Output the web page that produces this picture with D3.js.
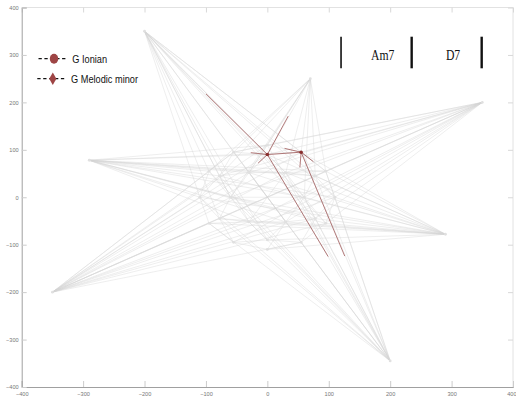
<!DOCTYPE html>
<html>
<head>
<meta charset="utf-8">
<script src="https://cdn.jsdelivr.net/npm/d3@7/dist/d3.min.js"></script>
<style>
  html, body { margin: 0; padding: 0; background: #fff; }
  svg { display: block; }
</style>
</head>
<body>
<svg id="chart" width="516" height="401"></svg>
<script>
// Axis ticks
const xTicks = [-400, -300, -200, -100, 0, 100, 200, 300, 400];
const yTicks = [-400, -300, -200, -100, 0, 100, 200, 300, 400];

// Inner scale lattice: outer ring, middle ring, inner ring
const innerNodes = [
  [110, 0], [95, 55], [55, 95], [0, 110], [-55, 95], [-95, 55],
  [-110, 0], [-95, -55], [-55, -95], [0, -110], [55, -95], [95, -55],
  [78, 45], [0, 90], [-78, 45], [-78, -45], [0, -90], [78, -45],
  [60, 0], [30, 52], [-30, 52], [-60, 0], [-30, -52], [30, -52]
];

// Star tips (distant scales)
const outerNodes = [
  [-200, 350], [70, 250], [350, 200], [-290, 78],
  [290, -78], [-350, -200], [200, -345]
];

// Links inside the lattice (indices into innerNodes)
const innerEdges = [
  [0,1],[1,2],[2,3],[3,4],[4,5],[5,6],[6,7],[7,8],[8,9],[9,10],[10,11],[11,0],
  [12,0],[12,2],[13,2],[13,4],[14,4],[14,6],[15,6],[15,8],[16,8],[16,10],[17,10],[17,0],
  [18,19],[19,20],[20,21],[21,22],[22,23],[23,18],
  [18,12],[18,17],[19,12],[19,13],[20,13],[20,14],[21,14],[21,15],[22,15],[22,16],[23,16],[23,17],
  [18,21],[19,22],[20,23],[1,19],[3,20],[5,21],[7,22],[9,23],[11,18]
];

// Links from each star tip to lattice nodes
const outerFans = [
  [6, 5, 14, 21, 15, 22, 20, 13, 16, 23, 19, 18, 12, 17, 1, 0, 11, 2],
  [4, 5, 14, 20, 13, 3, 19, 2, 12, 1, 18, 21],
  [3, 4, 13, 2, 20, 19, 12, 1, 14, 21, 18, 0, 22, 23, 17, 11, 15, 8],
  [13, 3, 2, 20, 19, 12, 1, 18, 0, 14, 21, 5, 6, 23, 17, 11, 22],
  [2, 13, 19, 12, 1, 18, 0, 20, 21, 14, 22, 23, 15, 6, 7, 16, 9, 11, 17],
  [4, 5, 14, 20, 13, 3, 2, 19, 21, 6, 18, 12, 1, 0, 22, 23, 17, 11, 10, 15, 7],
  [6, 5, 14, 21, 20, 13, 4, 3, 19, 2, 18, 12, 1, 0, 22, 15, 7, 23, 17]
];

// Highlighted path: the two active scales and their links
const activeNodes = [[0, 90], [55, 95]];
const activeLinks = [
  [0, 90, -100, 218], [0, 90, 99, -125], [0, 90, 34, 171], [0, 90, -15, 72],
  [0, 90, -27, 94], [0, 90, 55, 95],
  [55, 95, 28, 103], [55, 95, 75, 75], [55, 95, 53, 63], [55, 95, 126, -124]
];

// Legend
const legendLabels = ["G Ionian", "G Melodic minor"];
const legendSymbols = ["circle", "diamond"];

// Chord bar
const chordNames = ["Am7", "D7"];
const chordBars = [120, 235, 349];

const svg = d3.select("#chart");
const x = d3.scaleLinear().domain([-400, 400]).range([21.7, 513]);
const y = d3.scaleLinear().domain([-400, 400]).range([387, 7.5]);

const tickFont = "'Liberation Sans', Arial, sans-serif";

// Frame: light top/right edges
svg.append("line").attr("x1", x(-400)).attr("x2", x(400)).attr("y1", y(400)).attr("y2", y(400))
  .attr("stroke", "#e2e2e2").attr("stroke-width", 1);
svg.append("line").attr("x1", x(400)).attr("x2", x(400)).attr("y1", y(400)).attr("y2", y(-400))
  .attr("stroke", "#e2e2e2").attr("stroke-width", 1);

const topAxis = svg.append("g").attr("transform", `translate(0,${y(400)})`)
  .call(d3.axisTop(x).tickValues(xTicks).tickSize(-5).tickFormat(""));
const rightAxis = svg.append("g").attr("transform", `translate(${x(400)},0)`)
  .call(d3.axisRight(y).tickValues(yTicks).tickSize(-5).tickFormat(""));
[topAxis, rightAxis].forEach(g => {
  g.select(".domain").remove();
  g.selectAll(".tick line").attr("stroke", "#d8d8d8");
});

// Network: gray links
const net = svg.append("g").attr("fill", "none").attr("stroke", "#d4d4d4")
  .attr("stroke-opacity", 0.5).attr("stroke-width", 0.8);

innerEdges.forEach(([a, b]) => {
  net.append("line")
    .attr("x1", x(innerNodes[a][0])).attr("y1", y(innerNodes[a][1]))
    .attr("x2", x(innerNodes[b][0])).attr("y2", y(innerNodes[b][1]));
});
outerFans.forEach((fan, i) => {
  const o = outerNodes[i];
  fan.forEach(t => {
    net.append("line")
      .attr("x1", x(o[0])).attr("y1", y(o[1]))
      .attr("x2", x(innerNodes[t][0])).attr("y2", y(innerNodes[t][1]));
  });
});

// Node dots
svg.append("g").selectAll("circle").data(innerNodes.concat(outerNodes)).join("circle")
  .attr("cx", d => x(d[0])).attr("cy", d => y(d[1])).attr("r", 1.4)
  .attr("fill", "#e0e0e0");

// Highlighted links
svg.append("g").selectAll("line").data(activeLinks).join("line")
  .attr("x1", d => x(d[0])).attr("y1", d => y(d[1]))
  .attr("x2", d => x(d[2])).attr("y2", d => y(d[3]))
  .attr("stroke", "#9c5252").attr("stroke-opacity", 0.8).attr("stroke-width", 0.95);
svg.append("g").selectAll("circle").data(activeNodes).join("circle")
  .attr("cx", d => x(d[0])).attr("cy", d => y(d[1])).attr("r", 1.8)
  .attr("fill", "#8a2e2e");

// Main axes
const bottomAxis = svg.append("g").attr("transform", `translate(0,${y(-400)})`)
  .call(d3.axisBottom(x).tickValues(xTicks).tickSize(-6).tickPadding(5));
const leftAxis = svg.append("g").attr("transform", `translate(${x(-400)},0)`)
  .call(d3.axisLeft(y).tickValues(yTicks).tickSize(-5).tickPadding(3));
[bottomAxis, leftAxis].forEach(g => {
  g.select(".domain").attr("stroke", "#a0a0a0");
  g.selectAll(".tick line").attr("stroke", "#cccccc");
  g.selectAll(".tick text").attr("fill", "#777").attr("font-size", 5.6)
    .attr("font-family", tickFont);
});
// keep the last x label inside the frame
bottomAxis.selectAll(".tick text").filter(d => d === 400)
  .attr("text-anchor", "end").attr("x", 3);

// Legend
const legend = svg.append("g");
legendLabels.forEach((label, i) => {
  const cy = 58.7 + i * 20;
  const x0 = 38.5 - i * 1.2;
  legend.append("line").attr("x1", x0).attr("x2", x0 + 29).attr("y1", cy).attr("y2", cy)
    .attr("stroke", "#111").attr("stroke-width", 1.3).attr("stroke-dasharray", "3.3,2.6");
  const mx = x0 + 15.5;
  if (legendSymbols[i] === "circle") {
    legend.append("ellipse").attr("cx", mx).attr("cy", cy).attr("rx", 4.2).attr("ry", 5)
      .attr("fill", "#9e4545");
  } else {
    legend.append("path")
      .attr("d", `M${mx},${cy - 6.3}L${mx + 3.6},${cy}L${mx},${cy + 6.3}L${mx - 3.6},${cy}Z`)
      .attr("fill", "#9e4545");
  }
  legend.append("text")
    .attr("transform", `translate(${72.3 - i * 1.3},${cy + 4.4}) scale(0.78,1)`)
    .attr("font-family", tickFont).attr("font-size", 11.8).attr("fill", "#111")
    .text(label);
});

// Chord bar along the top
const chords = svg.append("g");
chordBars.forEach((v, i) => {
  chords.append("line").attr("x1", x(v)).attr("x2", x(v)).attr("y1", 36.7).attr("y2", 68.3)
    .attr("stroke", "#111").attr("stroke-width", i === 0 ? 1.6 : 2.4);
});
chordNames.forEach((name, i) => {
  const cx = (x(chordBars[i]) + x(chordBars[i + 1])) / 2 + 6.4;
  chords.append("text")
    .attr("transform", `translate(${cx},60) scale(0.78,1)`)
    .attr("text-anchor", "middle")
    .attr("font-family", "'Liberation Serif', 'Times New Roman', serif")
    .attr("font-size", 15).attr("fill", "#111")
    .text(name);
});
</script>
</body>
</html>
